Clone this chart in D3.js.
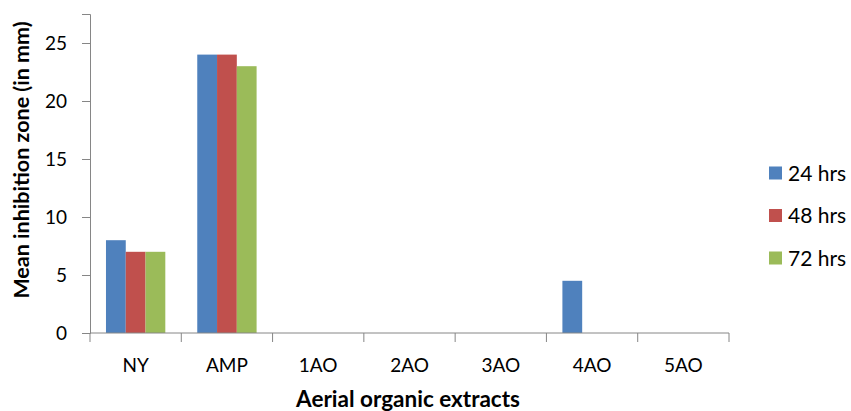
<!DOCTYPE html>
<html>
<head>
<meta charset="utf-8">
<script src="https://cdn.jsdelivr.net/npm/d3@7"></script>
<style>
  html, body { margin: 0; padding: 0; background: #fff; }
  svg text { font-family: Lato, "Open Sans", sans-serif; fill: #000; }
</style>
</head>
<body>
<svg id="chart" width="851" height="411"></svg>
<script>
// Extract names along the x axis
const categories = ["NY", "AMP", "1AO", "2AO", "3AO", "4AO", "5AO"];
// Series labels (incubation time)
const seriesNames = ["24 hrs", "48 hrs", "72 hrs"];
// Mean inhibition zone (mm) per extract, one array per series
const values24 = [8, 24, 0, 0, 0, 4.5, 0];
const values48 = [7, 24, 0, 0, 0, 0, 0];
const values72 = [7, 23, 0, 0, 0, 0, 0];
const yTicks = [0, 5, 10, 15, 20, 25];
const seriesColors = ["#4F81BD", "#C0504D", "#9BBB59"];

const series = [values24, values48, values72];

const svg = d3.select("#chart");
const margin = { left: 90, right: 122, top: 14, bottom: 78 };
const W = 851, H = 411;

const x = d3.scaleBand()
  .domain(categories)
  .range([margin.left, W - margin.right])
  .paddingInner(0.35)
  .paddingOuter(0.175);

const xOuter = d3.scaleBand()
  .domain(categories)
  .range([margin.left, W - margin.right]);

const xInner = d3.scaleBand()
  .domain(d3.range(series.length))
  .range([0, x.bandwidth()]);

const y = d3.scaleLinear()
  .domain([0, 27.5])
  .range([H - margin.bottom, margin.top]);

// Bars
const groups = svg.append("g")
  .selectAll("g")
  .data(categories)
  .join("g")
  .attr("transform", d => `translate(${x(d)},0)`);

groups.selectAll("rect")
  .data((c, i) => series.map((s, k) => ({ k, v: s[i] })))
  .join("rect")
  .filter(d => d.v > 0)
  .attr("x", d => xInner(d.k))
  .attr("width", xInner.bandwidth())
  .attr("y", d => y(d.v))
  .attr("height", d => y(0) - y(d.v))
  .attr("fill", d => seriesColors[d.k]);

const axisColor = "#868686";

// Y axis
const yAxis = svg.append("g")
  .attr("transform", `translate(${margin.left},0)`)
  .call(d3.axisLeft(y).tickValues(yTicks).tickSize(8).tickPadding(15));
yAxis.select(".domain").attr("stroke", axisColor);
yAxis.selectAll(".tick line").attr("stroke", axisColor);
yAxis.selectAll(".tick text").attr("font-size", 19).attr("font-family", "Lato, sans-serif");

// X axis with tick marks at band boundaries
const xAxisG = svg.append("g")
  .attr("transform", `translate(0,${y(0)})`);
xAxisG.append("line")
  .attr("x1", margin.left).attr("x2", W - margin.right)
  .attr("stroke", axisColor);
const boundaries = categories.map(c => xOuter(c)).concat([W - margin.right]);
xAxisG.selectAll("line.tk")
  .data(boundaries)
  .join("line")
  .attr("class", "tk")
  .attr("x1", d => d).attr("x2", d => d)
  .attr("y1", 0).attr("y2", 9)
  .attr("stroke", axisColor);
xAxisG.selectAll("text")
  .data(categories)
  .join("text")
  .attr("x", d => xOuter(d) + xOuter.bandwidth() / 2)
  .attr("y", 39)
  .attr("text-anchor", "middle")
  .attr("font-size", 19)
  .text(d => d);

// Axis titles
svg.append("text")
  .attr("x", 408)
  .attr("y", 407)
  .attr("text-anchor", "middle")
  .attr("font-size", 22.5)
  .attr("font-weight", "bold")
  .text("Aerial organic extracts");

svg.append("text")
  .attr("transform", `translate(29,${160}) rotate(-90)`)
  .attr("text-anchor", "middle")
  .attr("font-size", 21.5)
  .attr("font-weight", "bold")
  .text("Mean inhibition zone (in mm)");

// Legend
const legend = svg.append("g")
  .selectAll("g")
  .data(seriesNames)
  .join("g")
  .attr("transform", (d, i) => `translate(769,${173 + i * 42.5})`);
legend.append("rect")
  .attr("x", 0).attr("y", -6.5)
  .attr("width", 13).attr("height", 13)
  .attr("fill", (d, i) => seriesColors[i]);
legend.append("text")
  .attr("x", 19).attr("y", 7.5)
  .attr("font-size", 21)
  .text(d => d);
</script>
</body>
</html>
